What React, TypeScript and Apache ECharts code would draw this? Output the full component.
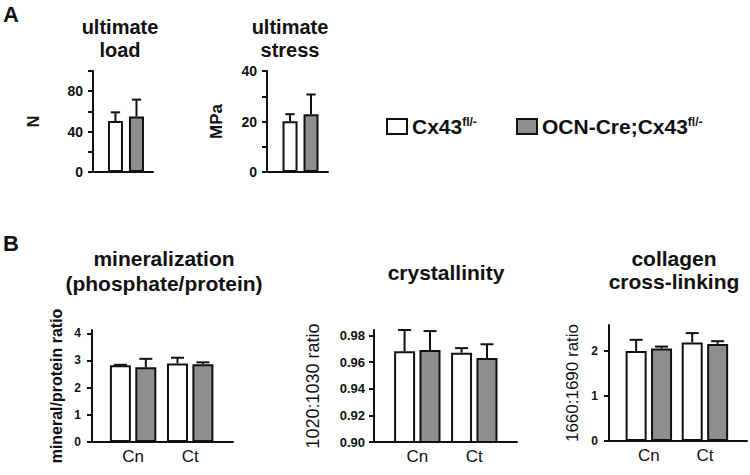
import React, { useEffect, useRef } from 'react';
import * as echarts from 'echarts';

// ---------- data ----------
const groups = ['Cx43', 'OCN-Cre;Cx43'];
const groupSup = 'fl/-';
const sites = ['Cn', 'Ct'];

// Panel A (single group of two bars)
const loadMean = [50.5, 55];
const loadErr = [8.6, 16.7];
const stressMean = [20.1, 22.9];
const stressErr = [2.8, 7.8];

// Panel B (per site: Cn, Ct)
const mineralWT = [2.82, 2.89];
const mineralWTErr = [0.02, 0.21];
const mineralKO = [2.75, 2.86];
const mineralKOErr = [0.31, 0.07];

const crystWT = [0.968, 0.967];
const crystWTErr = [0.016, 0.0034];
const crystKO = [0.969, 0.963];
const crystKOErr = [0.0142, 0.0103];

const collWT = [2.0, 2.19];
const collWTErr = [0.25, 0.21];
const collKO = [2.06, 2.16];
const collKOErr = [0.04, 0.06];

const mineralTicks = [0, 1, 2, 3, 4];
const crystTicks = [0.9, 0.92, 0.94, 0.96, 0.98];
const collTicks = [0, 1, 2];

// ---------- styles ----------
const FONT = '"Liberation Sans", Arial, Helvetica, sans-serif';
const INK = '#111';
const GRAY = '#8e8e8e';

function buildOption() {
  const grid: any[] = [];
  const xAxis: any[] = [];
  const yAxis: any[] = [];
  const series: any[] = [];

  const addPanel = (cfg: any) => {
    const gi = grid.length;
    grid.push({ left: cfg.left, top: cfg.top, width: cfg.width, height: cfg.height });
    xAxis.push({
      gridIndex: gi,
      type: 'value',
      min: cfg.xMin,
      max: cfg.xMax,
      axisLine: { show: true, onZero: false, lineStyle: { color: INK, width: 2 } },
      axisTick: { show: false },
      splitLine: { show: false },
      axisLabel: cfg.xLabels
        ? {
            show: true,
            customValues: [1, 2],
            formatter: (v: number) => sites[Math.round(v) - 1] || '',
            fontSize: 17,
            fontFamily: FONT,
            color: INK,
            margin: 6,
          }
        : { show: false },
    });
    const yLabel: any = {
      show: true,
      fontSize: cfg.yFont,
      fontWeight: 'bold',
      fontFamily: FONT,
      color: INK,
      margin: cfg.yMargin,
      formatter: cfg.yFormatter,
    };
    const yTick: any = { show: true, inside: false, length: 5, lineStyle: { color: INK, width: 2 } };
    if (cfg.yTicks) {
      yLabel.customValues = cfg.yTicks;
      yTick.customValues = cfg.yTicks;
    }
    yAxis.push({
      gridIndex: gi,
      type: 'value',
      min: cfg.yMin,
      max: cfg.yMax,
      interval: cfg.yInterval,
      axisLine: { show: true, onZero: false, lineStyle: { color: INK, width: 2 } },
      axisTick: yTick,
      axisLabel: yLabel,
      splitLine: { show: false },
      name: cfg.yName,
      nameLocation: 'middle',
      nameRotate: 90,
      nameGap: cfg.nameGap,
      nameTextStyle: {
        fontSize: cfg.nameFont,
        fontWeight: cfg.nameBold ? 'bold' : 'normal',
        fontFamily: FONT,
        color: INK,
      },
    });
    const bw = cfg.barWidth;
    const gap = cfg.barGap;
    const shift = (bw * (1 + gap)) / 2;
    const sets = [
      { name: groups[0], vals: cfg.wt, errs: cfg.wtErr, color: '#ffffff', dx: -shift },
      { name: groups[1], vals: cfg.ko, errs: cfg.koErr, color: GRAY, dx: shift },
    ];
    sets.forEach((s) => {
      series.push({
        type: 'bar',
        name: s.name,
        xAxisIndex: gi,
        yAxisIndex: gi,
        barWidth: bw,
        barGap: gap * 100 + '%',
        data: s.vals.map((v: number, i: number) => [i + 1, v]),
        itemStyle: { color: s.color, borderColor: INK, borderWidth: 2 },
        emphasis: { disabled: true },
        z: 2,
      });
    });
    sets.forEach((s) => {
      series.push({
        type: 'custom',
        name: 'err-' + gi + '-' + s.name,
        xAxisIndex: gi,
        yAxisIndex: gi,
        z: 3,
        data: s.vals.map((v: number, i: number) => [i + 1, v, s.errs[i]]),
        renderItem: (params: any, api: any) => {
          const x = api.value(0);
          const y = api.value(1);
          const e = api.value(2);
          const base = api.coord([x, y]);
          const top = api.coord([x, y + e]);
          const cx = base[0] + s.dx;
          const cap = bw * 0.62;
          const st = { stroke: INK, lineWidth: 2 };
          return {
            type: 'group',
            children: [
              { type: 'line', shape: { x1: cx, y1: base[1], x2: cx, y2: top[1] }, style: st },
              { type: 'line', shape: { x1: cx - cap / 2, y1: top[1], x2: cx + cap / 2, y2: top[1] }, style: st },
            ],
          };
        },
      });
    });
  };

  // Panel A: ultimate load
  addPanel({
    left: 93, top: 71, width: 60, height: 101,
    xMin: 0, xMax: 1.82, xLabels: false,
    yMin: 0, yMax: 100, yInterval: 20,
    yFont: 14, yMargin: 10,
    yFormatter: (v: number) => (v % 40 === 0 ? String(v) : ''),
    yName: 'N', nameGap: 52, nameFont: 16, nameBold: true,
    barWidth: 15, barGap: 0.4,
    wt: [loadMean[0]], wtErr: [loadErr[0]], ko: [loadMean[1]], koErr: [loadErr[1]],
  });
  // Panel A: ultimate stress
  addPanel({
    left: 267, top: 71, width: 61, height: 101,
    xMin: 0, xMax: 1.82, xLabels: false,
    yMin: 0, yMax: 40, yInterval: 10,
    yFont: 14, yMargin: 10,
    yFormatter: (v: number) => (v % 20 === 0 ? String(v) : ''),
    yName: 'MPa', nameGap: 42, nameFont: 17, nameBold: true,
    barWidth: 15, barGap: 0.4,
    wt: [stressMean[0]], wtErr: [stressErr[0]], ko: [stressMean[1]], koErr: [stressErr[1]],
  });
  // Panel B: mineralization
  addPanel({
    left: 92, top: 330, width: 141, height: 112,
    xMin: 0.28, xMax: 2.75, xLabels: true,
    yMin: 0, yMax: 4.12, yTicks: mineralTicks,
    yFont: 12, yMargin: 11,
    yFormatter: (v: number) => String(v),
    yName: 'mineral/protein ratio', nameGap: 28, nameFont: 16, nameBold: true,
    barWidth: 21, barGap: 0.21,
    wt: mineralWT, wtErr: mineralWTErr, ko: mineralKO, koErr: mineralKOErr,
  });
  // Panel B: crystallinity
  addPanel({
    left: 374, top: 330, width: 143, height: 112,
    xMin: 0.24, xMax: 2.75, xLabels: true,
    yMin: 0.9, yMax: 0.984, yTicks: crystTicks,
    yFont: 13, yMargin: 9,
    yFormatter: (v: number) => v.toFixed(2),
    yName: '1020:1030 ratio', nameGap: 52, nameFont: 18, nameBold: false,
    barWidth: 21, barGap: 0.21,
    wt: crystWT, wtErr: crystWTErr, ko: crystKO, koErr: crystKOErr,
  });
  // Panel B: collagen cross-linking
  addPanel({
    left: 609, top: 325, width: 138, height: 116,
    xMin: 0.29, xMax: 2.75, xLabels: true,
    yMin: 0, yMax: 2.58, yTicks: collTicks,
    yFont: 12, yMargin: 11,
    yFormatter: (v: number) => String(v),
    yName: '1660:1690 ratio', nameGap: 28, nameFont: 17, nameBold: false,
    barWidth: 21, barGap: 0.21,
    wt: collWT, wtErr: collWTErr, ko: collKO, koErr: collKOErr,
  });

  const titleStyle = (text: string, x: number, y: number, lh: number, fs: number) => ({
    type: 'text',
    x,
    y,
    style: {
      text,
      textAlign: 'center',
      textVerticalAlign: 'top',
      fontSize: fs,
      fontWeight: 'bold',
      fontFamily: FONT,
      lineHeight: lh,
      fill: INK,
    },
  });

  const legendCommon = {
    orient: 'horizontal',
    icon: 'rect',
    itemWidth: 20,
    itemHeight: 15,
    padding: 0,
    selectedMode: false,
    formatter: (n: string) => `{m|${n}}{s|${groupSup}}`,
    textStyle: {
      rich: {
        m: { fontSize: 21, fontWeight: 'bold', fontFamily: FONT, color: INK, lineHeight: 22 },
        s: { fontSize: 12, fontWeight: 'bold', fontFamily: FONT, color: INK, lineHeight: 18, verticalAlign: 'top' },
      },
    },
  };

  return {
    animation: false,
    backgroundColor: '#ffffff',
    grid,
    xAxis,
    yAxis,
    series,
    legend: [
      { ...legendCommon, data: [groups[0]], left: 386, top: 115.5 },
      { ...legendCommon, data: [groups[1]], left: 516, top: 115.5 },
    ],
    graphic: [
      { type: 'text', x: 3, y: 3, style: { text: 'A', fontSize: 22, fontWeight: 'bold', fontFamily: FONT, fill: INK } },
      { type: 'text', x: 3, y: 232, style: { text: 'B', fontSize: 22, fontWeight: 'bold', fontFamily: FONT, fill: INK } },
      titleStyle('ultimate\nload', 120, 15, 23, 20),
      titleStyle('ultimate\nstress', 290, 15, 23, 20),
      titleStyle('mineralization\n(phosphate/protein)', 164, 246, 25, 21),
      titleStyle('crystallinity', 446, 261, 23, 21),
      titleStyle('collagen\ncross-linking', 674, 247, 23, 21),
    ],
  };
}

export default function App() {
  const ref = useRef<HTMLDivElement>(null);
  useEffect(() => {
    if (!ref.current) return;
    const chart = echarts.init(ref.current, undefined, { renderer: 'svg' });
    chart.setOption(buildOption() as any);
    return () => chart.dispose();
  }, []);
  return (
    <div
      ref={ref}
      style={{ position: 'fixed', left: 0, top: 0, width: 750, height: 475, background: '#fff' }}
    />
  );
}
